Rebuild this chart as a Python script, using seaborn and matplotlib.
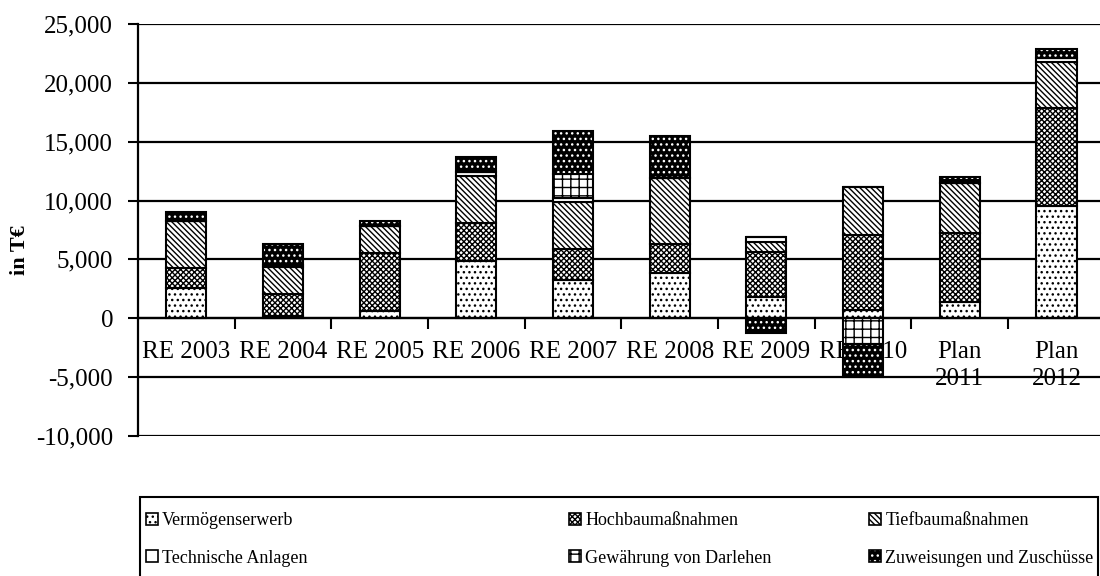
import numpy as np
import pandas as pd
import matplotlib
matplotlib.use("Agg")
import matplotlib.pyplot as plt
from matplotlib.patches import Patch, Rectangle
from matplotlib.ticker import FuncFormatter, FixedLocator
import seaborn as sns

# ---- data (T€) ----
categories = ["RE 2003", "RE 2004", "RE 2005", "RE 2006", "RE 2007",
              "RE 2008", "RE 2009", "RE 2010", "Plan\n2011", "Plan\n2012"]
vermoegenserwerb = [2600, 230, 660, 4860, 3230, 3860, 1800, 710, 1370, 9520]
hochbau = [1650, 1850, 4850, 3220, 2660, 2460, 3860, 6370, 5860, 8340]
tiefbau = [4000, 2260, 2370, 4000, 3990, 5620, 860, 4060, 4290, 3890]
technische_anlagen = [0, 170, 0, 340, 340, 0, 370, 0, 0, 340]
darlehen = [0, 0, 0, 0, 2060, 0, 0, -2200, 0, 0]
zuweisungen = [800, 1800, 400, 1310, 3600, 3510, -1250, -2800, 490, 800]

series_names = ["Vermögenserwerb", "Hochbaumaßnahmen", "Tiefbaumaßnahmen",
                "Technische Anlagen", "Gewährung von Darlehen",
                "Zuweisungen und Zuschüsse"]
series_values = [vermoegenserwerb, hochbau, tiefbau, technische_anlagen,
                 darlehen, zuweisungen]

y_ticks = [-10000, -5000, 0, 5000, 10000, 15000, 20000, 25000]

# ---- styles ----
styles = {
    "Vermögenserwerb": dict(fc="white", hatch="..."),
    "Hochbaumaßnahmen": dict(fc="white", hatch="xxxxxx"),
    "Tiefbaumaßnahmen": dict(fc="white", hatch="\\\\\\\\\\\\"),
    "Technische Anlagen": dict(fc="white", hatch=None),
    "Gewährung von Darlehen": dict(fc="white", hatch="++"),
    "Zuweisungen und Zuschüsse": dict(fc="black", hatch="...", dark=True),
}

sns.set_theme(style="white")
plt.rcParams["font.family"] = ["Liberation Serif", "DejaVu Serif"]
plt.rcParams["hatch.linewidth"] = 1.0
plt.rcParams["hatch.color"] = "black"

fig = plt.figure(figsize=(11, 5.76), dpi=100)
ax = fig.add_axes([138 / 1100, 1 - 436 / 576, 962 / 1100, 412 / 576])

BAR_W = 0.414
pos_base = np.zeros(len(categories))
neg_base = np.zeros(len(categories))

for name, vals in zip(series_names, series_values):
    vals = np.asarray(vals, dtype=float)
    bottoms = np.where(vals >= 0, pos_base, neg_base)
    df = pd.DataFrame({"cat": categories, "val": vals})
    st = styles[name]
    n0 = len(ax.patches)
    sns.barplot(data=df, x="cat", y="val", order=categories, bottom=bottoms,
                width=BAR_W, color="white", errorbar=None, ax=ax)
    for p in ax.patches[n0:]:
        p.set_facecolor(st["fc"])
        if st.get("dark"):
            p.set_edgecolor("white")
            p.set_linewidth(0)
        else:
            p.set_edgecolor("black")
            p.set_linewidth(1.5)
        if st["hatch"]:
            p.set_hatch(st["hatch"])
    if st.get("dark"):
        n1 = len(ax.patches)
        sns.barplot(data=df, x="cat", y="val", order=categories, bottom=bottoms,
                    width=BAR_W, color="black", fill=False, errorbar=None, ax=ax)
        for p in ax.patches[n1:]:
            p.set_facecolor("none")
            p.set_edgecolor("black")
            p.set_linewidth(1.5)
    pos_base = pos_base + np.where(vals >= 0, vals, 0)
    neg_base = neg_base + np.where(vals < 0, vals, 0)

# ---- axes ----
ax.set_xlim(-0.5, 9.45)
ax.set_ylim(-10000, 25000)
ax.set_axisbelow(True)
ax.yaxis.set_major_locator(FixedLocator(y_ticks))
ax.yaxis.set_major_formatter(FuncFormatter(lambda v, p: f"{v:,.0f}"))
ax.grid(axis="y", color="black", linewidth=1.6)
ax.grid(axis="x", visible=False)

for s in ["top", "right"]:
    ax.spines[s].set_visible(False)
ax.spines["left"].set_color("black")
ax.spines["left"].set_linewidth(1.6)
ax.spines["bottom"].set_position(("data", 0))
ax.spines["bottom"].set_color("black")
ax.spines["bottom"].set_linewidth(1.6)

ax.set_xticks(range(len(categories)))
ax.set_xticklabels(categories, linespacing=1.3)
ax.set_xticks(np.arange(0.5, len(categories) - 1, 1.0), minor=True)
ax.tick_params(axis="x", which="major", length=0, pad=16, labelsize=18,
               labelcolor="black")
ax.tick_params(axis="x", which="minor", length=8, width=1.5, direction="out",
               color="black", bottom=True)
ax.tick_params(axis="y", which="major", length=7, width=1.5, direction="out",
               color="black", pad=11, labelsize=18, labelcolor="black", left=True)
ax.set_xlabel("")
ax.set_ylabel("in T€", fontsize=16, fontweight="bold", color="black")
ax.yaxis.label.set_va("center")
ax.yaxis.set_label_coords(-0.1227, 0.451)

# ---- legend (3 columns, 2 rows, in a box) ----
def handle_for(name):
    st = styles[name]
    if st.get("dark"):
        return (Patch(facecolor="black", edgecolor="white", hatch=st["hatch"], linewidth=0),
                Patch(facecolor="none", edgecolor="black", linewidth=1.2))
    return Patch(facecolor=st["fc"], edgecolor="black", hatch=st["hatch"], linewidth=1.2)

columns = [(series_names[0], series_names[3]),
           (series_names[1], series_names[4]),
           (series_names[2], series_names[5])]
col_x = [146, 569, 869]
for names, x in zip(columns, col_x):
    leg = fig.legend([handle_for(n) for n in names], list(names),
                     loc="upper left", bbox_to_anchor=(x / 1100, 1 - 512 / 576),
                     bbox_transform=fig.transFigure, frameon=False,
                     borderpad=0, borderaxespad=0, handlelength=0.65,
                     handleheight=0.65, handletextpad=0.25, labelspacing=1.15,
                     fontsize=13)
    for t in leg.get_texts():
        t.set_color("black")

fig.add_artist(Rectangle((140 / 1100, -0.05), 958 / 1100, 0.05 + 1 - 497 / 576,
                         transform=fig.transFigure, fill=False,
                         edgecolor="black", linewidth=1.5))

fig.savefig("out.png", dpi=100, facecolor="white")
